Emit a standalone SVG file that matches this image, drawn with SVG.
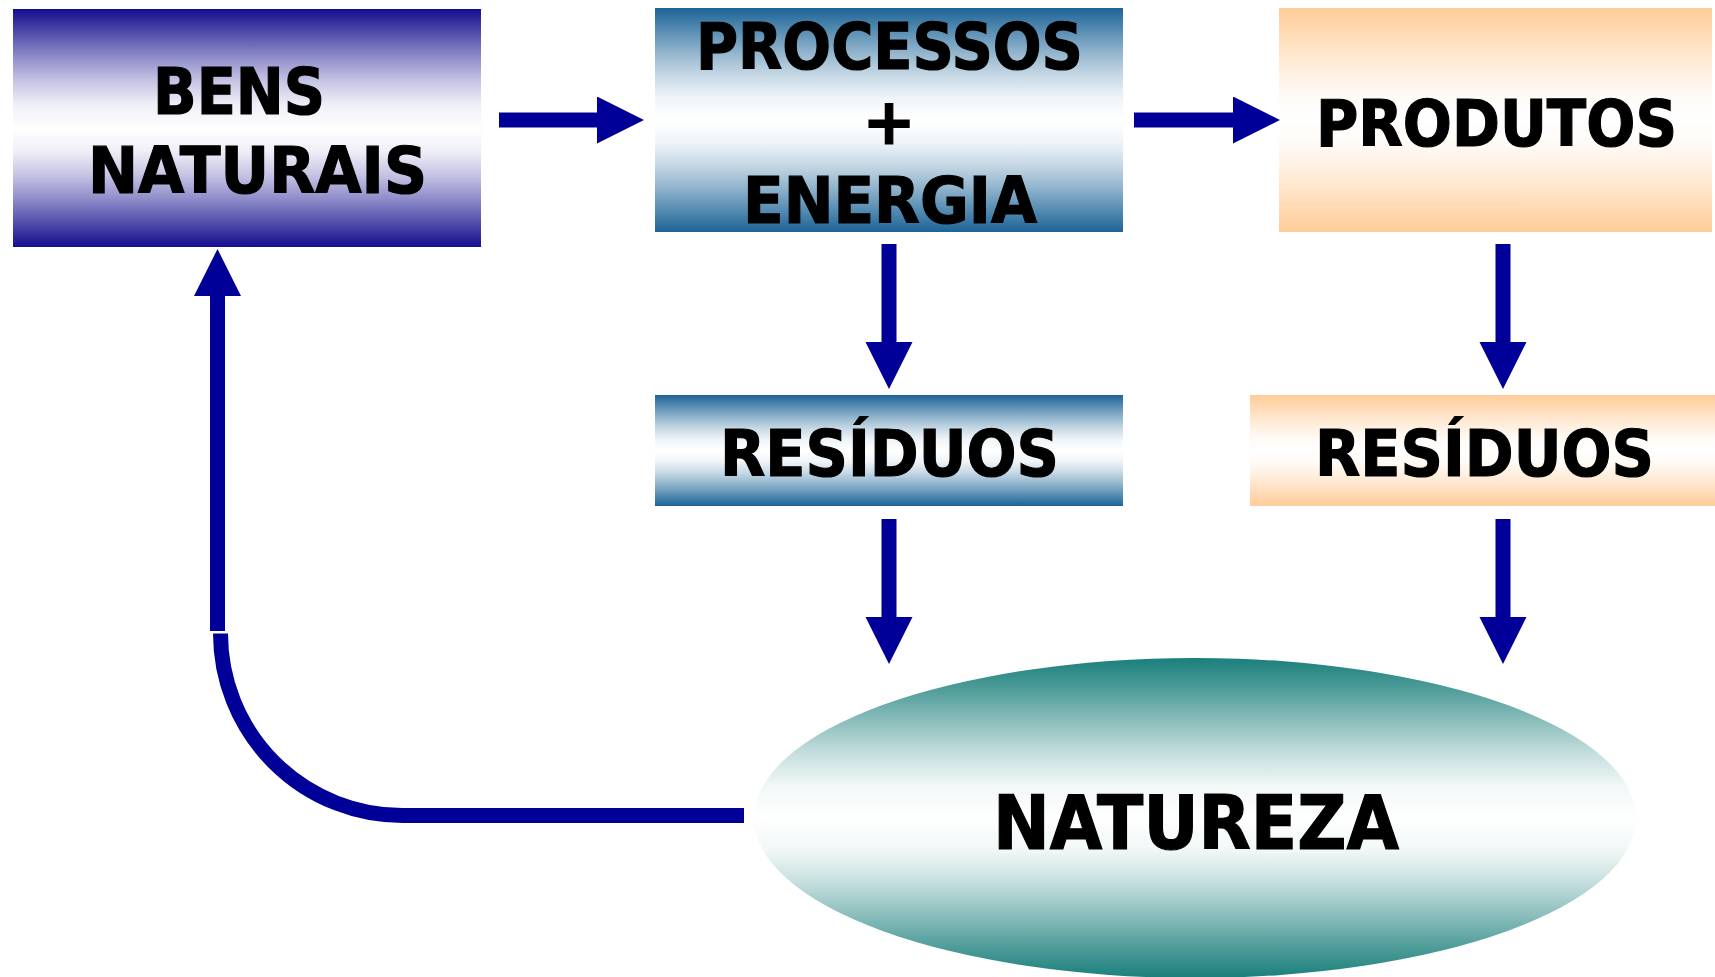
<svg xmlns="http://www.w3.org/2000/svg" width="1715" height="977" viewBox="0 0 1715 977">
<defs>
<linearGradient id="gBlue" x1="0" y1="0" x2="0" y2="1">
<stop offset="0" stop-color="#130E8E" stop-opacity="1"/>
<stop offset="0.1" stop-color="#130E8E" stop-opacity="0.74"/>
<stop offset="0.2" stop-color="#130E8E" stop-opacity="0.48"/>
<stop offset="0.3" stop-color="#130E8E" stop-opacity="0.25"/>
<stop offset="0.4" stop-color="#130E8E" stop-opacity="0.07"/>
<stop offset="0.5" stop-color="#130E8E" stop-opacity="0"/>
<stop offset="0.6" stop-color="#130E8E" stop-opacity="0.07"/>
<stop offset="0.7" stop-color="#130E8E" stop-opacity="0.25"/>
<stop offset="0.8" stop-color="#130E8E" stop-opacity="0.48"/>
<stop offset="0.9" stop-color="#130E8E" stop-opacity="0.74"/>
<stop offset="1" stop-color="#130E8E" stop-opacity="1"/>
</linearGradient>
<linearGradient id="gSteel" x1="0" y1="0" x2="0" y2="1">
<stop offset="0" stop-color="#1C6497" stop-opacity="1"/>
<stop offset="0.1" stop-color="#1C6497" stop-opacity="0.74"/>
<stop offset="0.2" stop-color="#1C6497" stop-opacity="0.48"/>
<stop offset="0.3" stop-color="#1C6497" stop-opacity="0.25"/>
<stop offset="0.4" stop-color="#1C6497" stop-opacity="0.07"/>
<stop offset="0.5" stop-color="#1C6497" stop-opacity="0"/>
<stop offset="0.6" stop-color="#1C6497" stop-opacity="0.07"/>
<stop offset="0.7" stop-color="#1C6497" stop-opacity="0.25"/>
<stop offset="0.8" stop-color="#1C6497" stop-opacity="0.48"/>
<stop offset="0.9" stop-color="#1C6497" stop-opacity="0.74"/>
<stop offset="1" stop-color="#1C6497" stop-opacity="1"/>
</linearGradient>
<linearGradient id="gPeach" x1="0" y1="0" x2="0" y2="1">
<stop offset="0" stop-color="#FFCC99" stop-opacity="1"/>
<stop offset="0.1" stop-color="#FFCC99" stop-opacity="0.76"/>
<stop offset="0.2" stop-color="#FFCC99" stop-opacity="0.5"/>
<stop offset="0.3" stop-color="#FFCC99" stop-opacity="0.27"/>
<stop offset="0.4" stop-color="#FFCC99" stop-opacity="0.08"/>
<stop offset="0.5" stop-color="#FFCC99" stop-opacity="0"/>
<stop offset="0.6" stop-color="#FFCC99" stop-opacity="0.08"/>
<stop offset="0.7" stop-color="#FFCC99" stop-opacity="0.27"/>
<stop offset="0.8" stop-color="#FFCC99" stop-opacity="0.5"/>
<stop offset="0.9" stop-color="#FFCC99" stop-opacity="0.76"/>
<stop offset="1" stop-color="#FFCC99" stop-opacity="1"/>
</linearGradient>
<linearGradient id="gTeal" x1="0" y1="0" x2="0" y2="1">
<stop offset="0" stop-color="#1A7F7B" stop-opacity="1"/>
<stop offset="0.1" stop-color="#1A7F7B" stop-opacity="0.76"/>
<stop offset="0.2" stop-color="#1A7F7B" stop-opacity="0.5"/>
<stop offset="0.3" stop-color="#1A7F7B" stop-opacity="0.25"/>
<stop offset="0.4" stop-color="#1A7F7B" stop-opacity="0.06"/>
<stop offset="0.5" stop-color="#1A7F7B" stop-opacity="0"/>
<stop offset="0.6" stop-color="#1A7F7B" stop-opacity="0.06"/>
<stop offset="0.7" stop-color="#1A7F7B" stop-opacity="0.25"/>
<stop offset="0.8" stop-color="#1A7F7B" stop-opacity="0.5"/>
<stop offset="0.9" stop-color="#1A7F7B" stop-opacity="0.76"/>
<stop offset="1" stop-color="#1A7F7B" stop-opacity="1"/>
</linearGradient>
<marker id="head" markerUnits="userSpaceOnUse" markerWidth="48" markerHeight="48" refX="0" refY="23.5" orient="auto">
<path d="M0,0 L47,23.5 L0,47 Z" fill="#000099"/>
</marker>
<style>
.t{font-family:"DejaVu Sans","Liberation Sans",sans-serif;font-weight:bold;font-size:64px;fill:#000;stroke:#000;stroke-width:1.2px;}
.big{font-size:75px;}
.c{stroke:#000099;stroke-width:15;fill:none;}
.a{marker-end:url(#head);}
</style>
</defs>
<rect width="1715" height="977" fill="#FFFFFF"/>
<g id="connectors">
<line class="c a" x1="499" y1="120" x2="597" y2="120"/>
<line class="c a" x1="1134" y1="120" x2="1233" y2="120"/>
<line class="c a" x1="889" y1="244" x2="889" y2="342"/>
<line class="c a" x1="1503" y1="244" x2="1503" y2="342"/>
<line class="c a" x1="889" y1="519" x2="889" y2="617"/>
<line class="c a" x1="1503" y1="519" x2="1503" y2="617"/>
<line class="c a" x1="217.5" y1="631" x2="217.5" y2="296"/>
<path class="c" d="M744,815.5 L403,815.5 A182,182 0 0 1 220.5,633.5"/>
</g>
<g id="bens-naturais">
<rect x="13" y="9" width="468" height="238" fill="url(#gBlue)"/>
<text class="t" x="153" y="114" textLength="172" lengthAdjust="spacingAndGlyphs">BENS</text>
<text class="t" x="88" y="192.5" textLength="339" lengthAdjust="spacingAndGlyphs">NATURAIS</text>
</g>
<g id="processos-energia">
<rect x="655" y="8" width="468" height="224" fill="url(#gSteel)"/>
<text class="t" x="696" y="69" textLength="387" lengthAdjust="spacingAndGlyphs">PROCESSOS</text>
<text class="t" x="889" y="144" text-anchor="middle">+</text>
<text class="t" x="743" y="223" textLength="294" lengthAdjust="spacingAndGlyphs">ENERGIA</text>
</g>
<g id="produtos">
<rect x="1279" y="8" width="433" height="224" fill="url(#gPeach)"/>
<text class="t" x="1316" y="145.5" textLength="361" lengthAdjust="spacingAndGlyphs">PRODUTOS</text>
</g>
<g id="residuos-1">
<rect x="655" y="395" width="468" height="111" fill="url(#gSteel)"/>
<text class="t" x="720" y="476" textLength="339" lengthAdjust="spacingAndGlyphs">RESÍDUOS</text>
</g>
<g id="residuos-2">
<rect x="1250" y="395" width="465" height="111" fill="url(#gPeach)"/>
<text class="t" x="1315" y="476" textLength="339" lengthAdjust="spacingAndGlyphs">RESÍDUOS</text>
</g>
<g id="natureza">
<ellipse cx="1195" cy="818" rx="441" ry="160" fill="url(#gTeal)"/>
<text class="t big" x="993" y="849" textLength="406" lengthAdjust="spacingAndGlyphs">NATUREZA</text>
</g>
</svg>
